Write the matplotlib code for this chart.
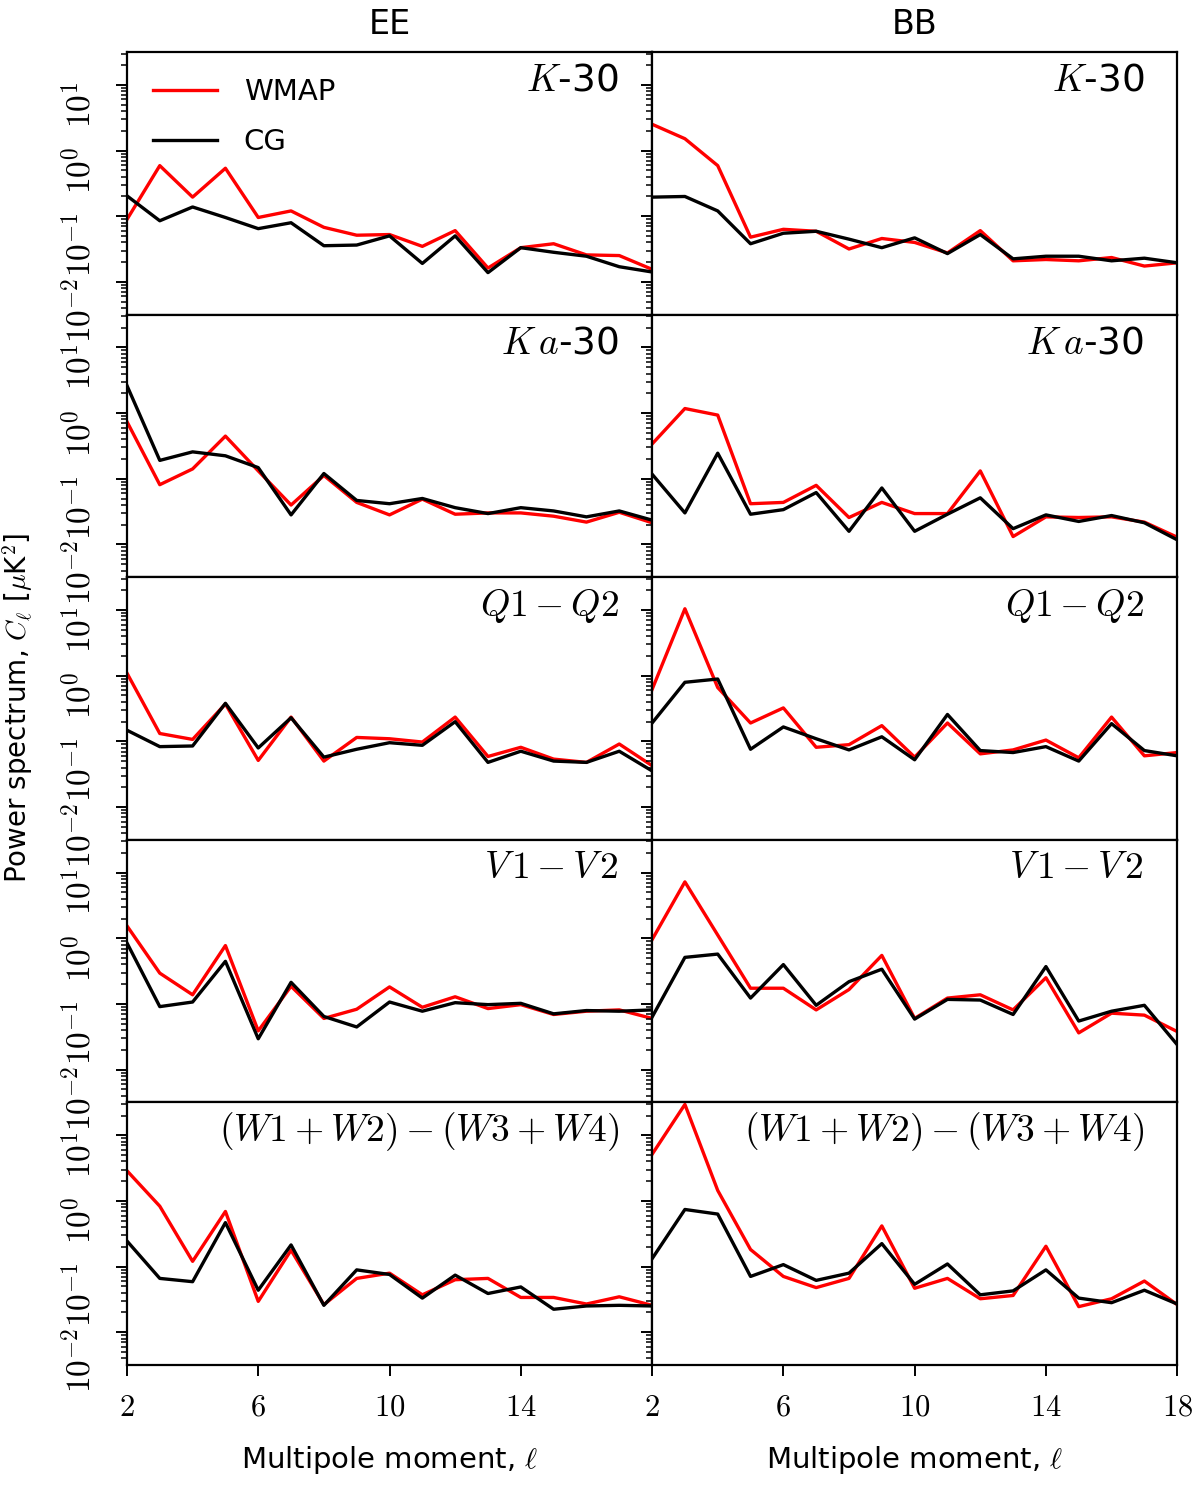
import matplotlib
matplotlib.use('Agg')
import numpy as np
import matplotlib.pyplot as plt
from matplotlib.ticker import LogLocator
from matplotlib.transforms import ScaledTranslation

plt.rcParams['font.family'] = 'DejaVu Sans'
plt.rcParams['mathtext.fontset'] = 'cm'

# multipoles
ELL = [2, 3, 4, 5, 6, 7, 8, 9, 10, 11, 12, 13, 14, 15, 16, 17, 18]

# values, in decades (log10 of C_l in uK^2)
ee_wmap_k = [-1.05, -0.23, -0.71, -0.27, -1.02, -0.92, -1.17, -1.29, -1.28, -1.46, -1.22, -1.79, -1.48, -1.42, -1.59, -1.60, -1.81]
ee_cg_k = [-0.69, -1.07, -0.86, -1.02, -1.19, -1.10, -1.45, -1.44, -1.30, -1.72, -1.30, -1.86, -1.48, -1.55, -1.61, -1.77, -1.85]
bb_wmap_k = [0.40, 0.18, -0.23, -1.32, -1.20, -1.23, -1.50, -1.34, -1.40, -1.56, -1.22, -1.68, -1.66, -1.68, -1.63, -1.76, -1.71]
bb_cg_k = [-0.71, -0.70, -0.92, -1.42, -1.26, -1.23, -1.35, -1.48, -1.33, -1.57, -1.28, -1.65, -1.61, -1.61, -1.68, -1.64, -1.71]

ee_wmap_ka = [-0.13, -1.09, -0.85, -0.35, -0.88, -1.40, -0.95, -1.36, -1.55, -1.31, -1.54, -1.52, -1.52, -1.57, -1.66, -1.51, -1.67]
ee_cg_ka = [0.42, -0.72, -0.59, -0.65, -0.83, -1.55, -0.92, -1.33, -1.38, -1.30, -1.44, -1.53, -1.44, -1.49, -1.58, -1.49, -1.63]
bb_wmap_ka = [-0.47, 0.07, -0.03, -1.38, -1.36, -1.10, -1.59, -1.36, -1.53, -1.53, -0.88, -1.88, -1.58, -1.59, -1.58, -1.66, -1.89]
bb_cg_ka = [-0.93, -1.52, -0.61, -1.54, -1.47, -1.21, -1.80, -1.14, -1.80, -1.54, -1.29, -1.76, -1.55, -1.65, -1.56, -1.67, -1.93]

ee_wmap_q = [0.04, -0.88, -0.97, -0.43, -1.29, -0.63, -1.30, -0.94, -0.96, -1.01, -0.63, -1.23, -1.09, -1.27, -1.32, -1.04, -1.37]
ee_cg_q = [-0.83, -1.08, -1.07, -0.42, -1.10, -0.64, -1.24, -1.12, -1.02, -1.06, -0.70, -1.32, -1.15, -1.30, -1.32, -1.15, -1.45]
bb_wmap_q = [-0.21, 1.02, -0.18, -0.72, -0.49, -1.09, -1.05, -0.76, -1.24, -0.72, -1.19, -1.13, -0.98, -1.25, -0.63, -1.22, -1.17]
bb_cg_q = [-0.72, -0.10, -0.05, -1.12, -0.78, -0.96, -1.13, -0.93, -1.28, -0.59, -1.14, -1.17, -1.08, -1.30, -0.73, -1.14, -1.22]

ee_wmap_v = [0.19, -0.53, -0.86, -0.11, -1.41, -0.73, -1.22, -1.08, -0.74, -1.05, -0.89, -1.07, -1.01, -1.16, -1.11, -1.09, -1.22]
ee_cg_v = [-0.07, -1.04, -0.97, -0.35, -1.53, -0.67, -1.19, -1.35, -0.97, -1.11, -0.98, -1.01, -0.99, -1.15, -1.10, -1.11, -1.09]
bb_wmap_v = [-0.02, 0.86, 0.05, -0.76, -0.76, -1.09, -0.78, -0.26, -1.22, -0.91, -0.86, -1.09, -0.60, -1.44, -1.14, -1.17, -1.42]
bb_cg_v = [-1.20, -0.29, -0.24, -0.91, -0.40, -1.02, -0.66, -0.47, -1.23, -0.93, -0.94, -1.16, -0.43, -1.26, -1.11, -1.02, -1.62]

ee_wmap_w = [0.46, -0.08, -0.92, -0.16, -1.53, -0.75, -1.58, -1.18, -1.10, -1.43, -1.20, -1.18, -1.47, -1.47, -1.57, -1.46, -1.59]
ee_cg_w = [-0.61, -1.18, -1.23, -0.33, -1.36, -0.67, -1.59, -1.05, -1.12, -1.48, -1.13, -1.41, -1.31, -1.65, -1.60, -1.59, -1.60]
bb_wmap_w = [0.71, 1.47, 0.16, -0.74, -1.15, -1.32, -1.18, -0.38, -1.33, -1.18, -1.49, -1.44, -0.69, -1.61, -1.49, -1.22, -1.58]
bb_cg_w = [-0.88, -0.13, -0.20, -1.15, -0.97, -1.21, -1.10, -0.65, -1.27, -0.96, -1.43, -1.37, -1.05, -1.48, -1.55, -1.36, -1.57]

BANDS = [r'$K$-30', r'$K\,a$-30', r'$Q1-Q2$', r'$V\,1-V\,2$', r'$(W1+W2)-(W3+W4)$']
COLUMNS = ['EE', 'BB']
WMAP = [[ee_wmap_k, ee_wmap_ka, ee_wmap_q, ee_wmap_v, ee_wmap_w],
        [bb_wmap_k, bb_wmap_ka, bb_wmap_q, bb_wmap_v, bb_wmap_w]]
CG = [[ee_cg_k, ee_cg_ka, ee_cg_q, ee_cg_v, ee_cg_w],
      [bb_cg_k, bb_cg_ka, bb_cg_q, bb_cg_v, bb_cg_w]]

YTICKS = [1e-2, 1e-1, 1e0, 1e1]
YTICKLABELS = [r'$10^{-2}$', r'$10^{-1}$', r'$10^{0}$', r'$10^{1}$']
XTICKS = [[2, 6, 10, 14], [2, 6, 10, 14, 18]]

fig, axes = plt.subplots(5, 2, figsize=(12, 14.87), dpi=100,
                         gridspec_kw=dict(hspace=0, wspace=0))
fig.subplots_adjust(left=0.1058, right=0.981, top=0.965, bottom=0.082)

for col in range(2):
    for row in range(5):
        ax = axes[row, col]
        ax.plot(ELL, 10 ** np.array(WMAP[col][row]), color='r', lw=2.4, label='WMAP')
        ax.plot(ELL, 10 ** np.array(CG[col][row]), color='k', lw=2.4, label='CG')
        ax.set_yscale('log')
        ax.set_ylim(10 ** -2.5, 10 ** 1.5)
        ax.set_xlim(2, 18)
        ax.set_xticks(XTICKS[col])
        ax.set_xticklabels(['$%d$' % t for t in XTICKS[col]])
        ax.set_yticks(YTICKS)
        ax.set_yticklabels(YTICKLABELS)
        # minor log ticks stay on even with the big labels
        ax.yaxis.set_minor_locator(LogLocator(base=10, subs=(2, 3, 4, 5, 6, 7, 8, 9), numticks=30))
        ax.text(0.937, 0.853, BANDS[row], transform=ax.transAxes, ha='right', va='baseline',
                fontsize=27)
        for s in ax.spines.values():
            s.set_linewidth(1.6)
        ax.tick_params(axis='y', which='both', direction='out', left=True, right=False,
                       labelleft=(col == 0), labelrotation=90, labelsize=24, pad=13)
        ax.tick_params(axis='y', which='major', length=8, width=1.4)
        ax.tick_params(axis='y', which='minor', length=4.5, width=1.1, labelleft=False)
        ax.tick_params(axis='x', which='both', direction='out', top=False,
                       bottom=(row == 4), labelbottom=(row == 4), labelsize=22,
                       length=8, width=1.4, pad=12)
        if col == 0:
            # the rotated labels sit a little below their ticks
            shift = ScaledTranslation(0, -7 / 72, fig.dpi_scale_trans)
            for lab in ax.get_yticklabels():
                lab.set_transform(lab.get_transform() + shift)

for col in range(2):
    axes[0, col].set_title(COLUMNS[col], fontsize=24, pad=13)
    axes[4, col].set_xlabel(r'Multipole moment, $\ell$', fontsize=21, labelpad=16)

axes[0, 0].legend(loc='upper left', frameon=False, fontsize=21, handlelength=2.2,
                  handletextpad=0.9, labelspacing=0.75, borderaxespad=0.5)

fig.text(0.015, 0.524, r'Power spectrum, $C_\ell$ [$\mu$K$^2$]', rotation=90,
         ha='center', va='center', fontsize=20)

fig.savefig('out.png', dpi=100)
